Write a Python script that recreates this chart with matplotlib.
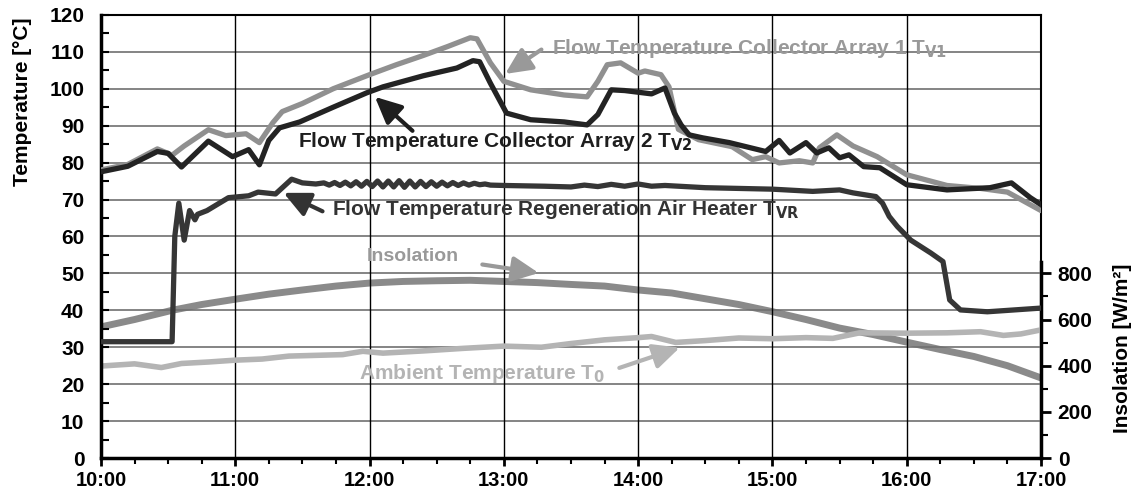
import matplotlib
matplotlib.use("Agg")
import matplotlib.pyplot as plt
import numpy as np

plt.rcParams['font.family'] = ['Liberation Sans', 'DejaVu Sans']
plt.rcParams['font.weight'] = 'bold'

# time in hours of day
t_v1 = [10.0, 10.2, 10.42, 10.53, 10.62, 10.8, 10.93, 11.08, 11.18, 11.28, 11.35, 11.5, 11.73, 12.0,
        12.2, 12.4, 12.58, 12.75, 12.8, 12.9, 13.0, 13.2, 13.45, 13.62, 13.7, 13.77, 13.87, 14.0,
        14.05, 14.17, 14.23, 14.3, 14.45, 14.7, 14.85, 14.95, 15.05, 15.2, 15.3, 15.35, 15.48,
        15.6, 15.78, 16.0, 16.3, 16.55, 16.75, 17.0]
v1 = [78.0, 79.5, 83.7, 82.0, 84.5, 88.9, 87.3, 87.8, 85.4, 90.8, 93.8, 96.0, 100.0, 103.8,
      106.5, 109.0, 111.4, 113.8, 113.5, 107.0, 102.0, 99.7, 98.3, 97.8, 102.0, 106.5, 107.0, 104.2,
      104.8, 103.8, 100.5, 89.0, 86.2, 84.3, 80.8, 81.6, 79.9, 80.5, 79.9, 84.0, 87.5,
      84.5, 81.6, 76.7, 73.8, 73.0, 72.0, 67.0]

t_v2 = [10.0, 10.2, 10.42, 10.5, 10.6, 10.8, 10.98, 11.1, 11.18, 11.25, 11.33, 11.48, 11.73, 11.98,
        12.1, 12.4, 12.65, 12.77, 12.82, 12.9, 13.02, 13.2, 13.45, 13.62, 13.7, 13.8, 13.9, 14.1,
        14.2, 14.27, 14.32, 14.38, 14.48, 14.68, 14.95, 15.05, 15.13, 15.25, 15.33, 15.42, 15.5,
        15.57, 15.68, 15.8, 16.0, 16.3, 16.62, 16.78, 16.92, 17.0]
v2 = [77.5, 79.0, 83.0, 82.5, 78.8, 85.8, 81.6, 83.5, 79.4, 86.0, 89.4, 91.0, 95.0, 98.9,
      100.5, 103.5, 105.6, 107.6, 107.3, 101.5, 93.4, 91.6, 91.0, 90.2, 93.0, 99.7, 99.5, 98.6,
      100.2, 93.4, 90.2, 87.5, 86.7, 85.4, 83.0, 86.0, 82.6, 85.4, 82.6, 84.0, 81.3,
      82.1, 78.9, 78.6, 74.0, 72.6, 73.2, 74.5, 70.5, 68.6]

t_vr = [10.0, 10.53, 10.55, 10.58, 10.62, 10.66, 10.7, 10.72, 10.79, 10.95, 11.1, 11.17, 11.3, 11.42,
        11.5, 11.6, 11.66, 11.7, 11.74, 11.78, 11.82, 11.86, 11.9, 11.94, 11.98, 12.02, 12.06, 12.1,
        12.14, 12.18, 12.22, 12.26, 12.3, 12.34, 12.38, 12.42, 12.46, 12.5, 12.54, 12.58, 12.62,
        12.66, 12.7, 12.74, 12.78, 12.82, 12.86, 12.9, 13.0, 13.3, 13.5, 13.6, 13.7, 13.8, 13.9,
        14.0, 14.1, 14.2, 14.5, 15.0, 15.3, 15.5, 15.6, 15.77, 15.82, 15.87, 15.93, 16.03, 16.18,
        16.27, 16.32, 16.4, 16.6, 17.0]
vr = [31.5, 31.5, 60.0, 69.0, 59.0, 67.0, 64.5, 66.0, 67.0, 70.5, 71.0, 72.0, 71.5, 75.5,
      74.5, 74.2, 74.5, 73.9, 74.6, 73.8, 74.7, 73.7, 74.8, 73.6, 74.9, 73.5, 75.0, 73.4,
      75.0, 73.4, 75.1, 73.3, 75.0, 73.4, 74.9, 73.5, 74.8, 73.6, 74.7, 73.7, 74.6,
      73.8, 74.5, 73.9, 74.4, 74.0, 74.2, 73.9, 73.8, 73.6, 73.4, 73.9, 73.5, 74.1, 73.6,
      74.2, 73.6, 73.8, 73.2, 72.8, 72.2, 72.6, 71.8, 70.8, 69.0, 65.4, 62.7, 59.0, 55.5,
      53.2, 42.8, 40.1, 39.6, 40.6]

t_ins = [10.0, 10.25, 10.53, 10.75, 11.0, 11.25, 11.5, 11.75, 12.0, 12.25, 12.5, 12.75, 13.0,
         13.25, 13.5, 13.75, 14.0, 14.25, 14.5, 14.75, 15.0, 15.25, 15.5, 15.75, 16.0, 16.25,
         16.5, 16.75, 17.0]
ins = [568, 600, 640, 665, 688, 710, 728, 745, 758, 765, 768, 770, 765,
       760, 752, 745, 728, 715, 690, 665, 634, 600, 563, 535, 502, 470, 440, 400, 347]

t_amb = [10.0, 10.25, 10.45, 10.6, 10.8, 11.0, 11.2, 11.4, 11.6, 11.8, 11.95, 12.1, 12.4, 12.7,
         13.0, 13.28, 13.5, 13.75, 14.0, 14.1, 14.28, 14.5, 14.75, 15.0, 15.25, 15.45, 15.65,
         16.0, 16.3, 16.55, 16.72, 16.85, 17.0]
amb = [24.9, 25.5, 24.5, 25.6, 26.0, 26.5, 26.8, 27.6, 27.8, 28.0, 28.9, 28.4, 29.0, 29.7,
       30.3, 30.0, 31.0, 32.0, 32.6, 32.9, 31.3, 31.8, 32.5, 32.3, 32.6, 32.4, 33.9,
       33.8, 33.9, 34.2, 33.2, 33.6, 34.7]

hour_labels = ['10:00', '11:00', '12:00', '13:00', '14:00', '15:00', '16:00', '17:00']

fig = plt.figure(figsize=(11.34, 4.95), dpi=100)
ax = fig.add_axes([0.089, 0.0747, 0.829, 0.8953])
ax2 = ax.twinx()

ax.set_xlim(10, 17)
ax.set_ylim(0, 120)
ax2.set_ylim(0, 1920)

ax.set_xticks(np.arange(10, 17.01, 1))
ax.set_xticklabels(hour_labels, fontweight='bold')
ax.set_xticks(np.arange(10, 17.01, 0.25), minor=True)
ax.set_yticks(np.arange(0, 121, 10))
ax.set_yticklabels([str(v) for v in range(0, 121, 10)], fontweight='bold')
ax.set_yticks(np.arange(0, 121, 5), minor=True)
ax2.set_yticks(np.arange(0, 801, 200))
ax2.set_yticklabels([str(v) for v in range(0, 801, 200)], fontweight='bold')
ax2.set_yticks(np.arange(0, 851, 100), minor=True)

for y in range(10, 120, 10):
    ax.axhline(y, color='#707070', lw=1.2, zorder=0)
for x in range(11, 17):
    ax.axvline(x, color='black', lw=1.0, zorder=0)

ax.plot(t_amb, amb, color='#b4b4b4', lw=4, solid_capstyle='round', zorder=2)
ax2.plot(t_ins, ins, color='#8a8a8a', lw=5, solid_capstyle='round', zorder=2)
ax.plot(t_vr, vr, color='#363636', lw=3.8, solid_capstyle='round', zorder=3)
ax.plot(t_v1, v1, color='#909090', lw=3.8, solid_capstyle='round', zorder=3)
ax.plot(t_v2, v2, color='#232323', lw=3.8, solid_capstyle='round', zorder=4)
ax.set_zorder(ax2.get_zorder() + 1)
ax.patch.set_visible(False)

for s in ['left', 'bottom']:
    ax.spines[s].set_linewidth(2.5)
ax.spines['top'].set_linewidth(1.5)
ax.spines['right'].set_linewidth(1.5)
ax2.spines['right'].set_linewidth(2.5)
ax2.spines['right'].set_bounds(0, 850)
for s in ['left', 'top', 'bottom']:
    ax2.spines[s].set_visible(False)

ax.tick_params(axis='x', which='major', labelsize=14.5, width=2, length=6, direction='out', pad=3)
ax.tick_params(axis='x', which='minor', width=1.5, length=4, direction='out')
ax.tick_params(axis='y', which='major', labelsize=15, width=1.5, length=6, direction='in', pad=12)
ax.tick_params(axis='y', which='minor', width=1.5, length=6, direction='in')
ax2.tick_params(axis='y', which='major', labelsize=15, width=2, length=7, direction='out', pad=5)
ax2.tick_params(axis='y', which='minor', width=1.5, length=5, direction='out')

ax.set_ylabel('Temperature [°C]', fontsize=15, fontweight='bold', loc='top')
ax.yaxis.set_label_coords(-0.073, 0.993)
ax2.set_ylabel('Insolation [W/m²]', fontsize=15, fontweight='bold')
ax2.yaxis.set_label_coords(1.077, 0.248)

arr = dict(arrowstyle='-|>,head_length=0.8,head_width=0.38', lw=3, shrinkA=0, shrinkB=0,
           mutation_scale=20)

ax.text(13.36, 110.8, 'Flow Temperature Collector Array 1 T$_{\\mathbf{V1}}$', color='#999999',
        fontsize=15, fontweight='bold', va='center', ha='left')
ax.annotate('', xy=(13.01, 104.0), xytext=(13.28, 110.6),
            arrowprops=dict(arr, color='#999999'))

ax.text(11.47, 85.7, 'Flow Temperature Collector Array 2 T$_{\\mathbf{V2}}$', color='#1e1e1e',
        fontsize=15, fontweight='bold', va='center', ha='left')
ax.annotate('', xy=(12.04, 97.8), xytext=(12.32, 88.6),
            arrowprops=dict(arr, color='#1e1e1e'))

ax.text(11.72, 67.2, 'Flow Temperature Regeneration Air Heater T$_{\\mathbf{VR}}$', color='#333333',
        fontsize=15, fontweight='bold', va='center', ha='left')
ax.annotate('', xy=(11.36, 71.8), xytext=(11.65, 66.8),
            arrowprops=dict(arr, color='#333333'))

ax.text(11.98, 54.6, 'Insolation', color='#999999', fontsize=14, fontweight='bold',
        va='center', ha='left')
ax.annotate('', xy=(13.26, 50.1), xytext=(12.84, 52.4),
            arrowprops=dict(arr, color='#999999'))

ax.text(11.92, 23.0, 'Ambient Temperature T$_{\\mathbf{0}}$', color='#b4b4b4', fontsize=15,
        fontweight='bold', va='center', ha='left')
ax.annotate('', xy=(14.31, 29.9), xytext=(13.86, 24.4),
            arrowprops=dict(arr, color='#b4b4b4'))

fig.savefig('out.png', dpi=100)
